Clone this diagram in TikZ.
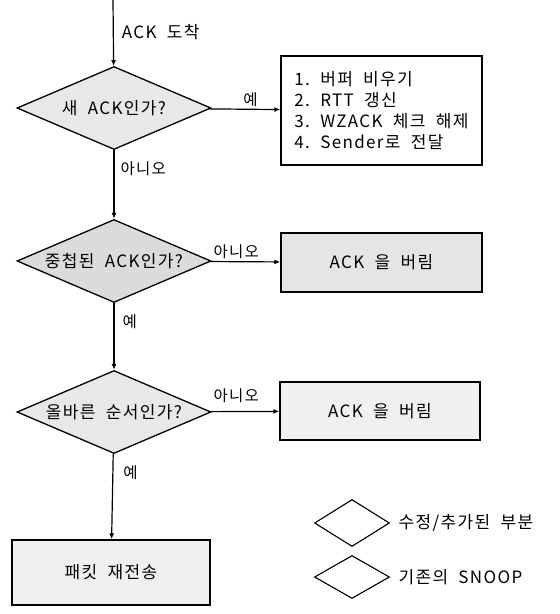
\documentclass[tikz,border=0pt]{standalone}
\usepackage{fontspec}
\setmainfont{Noto Sans CJK KR}[LetterSpace=8, WordSpace=2.0]
\usetikzlibrary{shapes.geometric,arrows.meta}
\begin{document}
\begin{tikzpicture}[x=1pt,y=-1pt,
  font=\fontsize{17}{21}\selectfont,
  arr/.style={draw, line width=1.2pt, -{Latex[length=6pt,width=5pt]}},
  dec/.style={diamond, draw, line width=1.3pt, inner sep=0pt, minimum width=194pt, minimum height=83pt, aspect=2.34},
  legdia/.style={diamond, draw, line width=1.1pt, inner sep=0pt, minimum width=75pt, minimum height=45pt, fill=white},
  procbox/.style={rectangle, draw, line width=1.4pt, inner sep=0pt},
  lbl/.style={inner sep=2pt, font=\fontsize{15.5}{18}\selectfont}
]
\useasboundingbox (0,0) rectangle (560,614);
\coordinate (start) at (113,0);
\node[dec, fill=gray!18] (d1) at (114,108) {\makebox[0pt]{새 ACK인가?}};
\node[procbox, fill=white, align=left, minimum width=201pt, minimum height=109pt] (b1) at (381.5,110.5) {1.\ 버퍼 비우기\\2.\ RTT 갱신\\3.\ WZACK 체크 해제\\4.\ Sender로 전달};
\node[dec, fill=gray!28] (d2) at (114,261) {\makebox[0pt]{중첩된 ACK인가?}};
\node[procbox, fill=gray!20, minimum width=201pt, minimum height=59pt] (b2) at (381.5,262.5) {ACK 을 버림};
\node[dec, fill=gray!18] (d3) at (114,412) {\makebox[0pt]{올바른 순서인가?}};
\node[procbox, fill=gray!12, minimum width=200pt, minimum height=58pt] (b3) at (380,411) {ACK 을 버림};
\node[procbox, fill=gray!12, minimum width=198pt, minimum height=65pt] (b4) at (111,572.5) {패킷 재전송};

\draw[arr] (start) -- node[lbl, right, pos=0.48, xshift=6pt, font=\fontsize{17}{21}\selectfont] {ACK 도착} (d1);
\draw[arr] (d1) -- node[lbl, above, pos=0.58] {예} (b1);
\draw[arr] (d1) -- node[lbl, right, pos=0.27, xshift=4pt] {아니오} (d2);
\draw[arr] (d2) -- node[lbl, above, pos=0.37] {아니오} (b2);
\draw[arr] (d2) -- node[lbl, right, pos=0.28, xshift=6pt] {예} (d3);
\draw[arr] (d3) -- node[lbl, above, pos=0.37, yshift=6pt] {아니오} (b3);
\draw[arr] (d3) -- node[lbl, right, pos=0.22, xshift=8pt] {예} (b4);

\node[legdia, minimum height=47pt] (l1) at (352,523) {};
\node[anchor=west] (t1) at (395,523) {수정/추가된 부분};
\node[legdia, minimum height=43pt] (l2) at (352,577) {};
\node[anchor=west] (t2) at (395,577) {기존의 SNOOP};
\end{tikzpicture}
\end{document}
